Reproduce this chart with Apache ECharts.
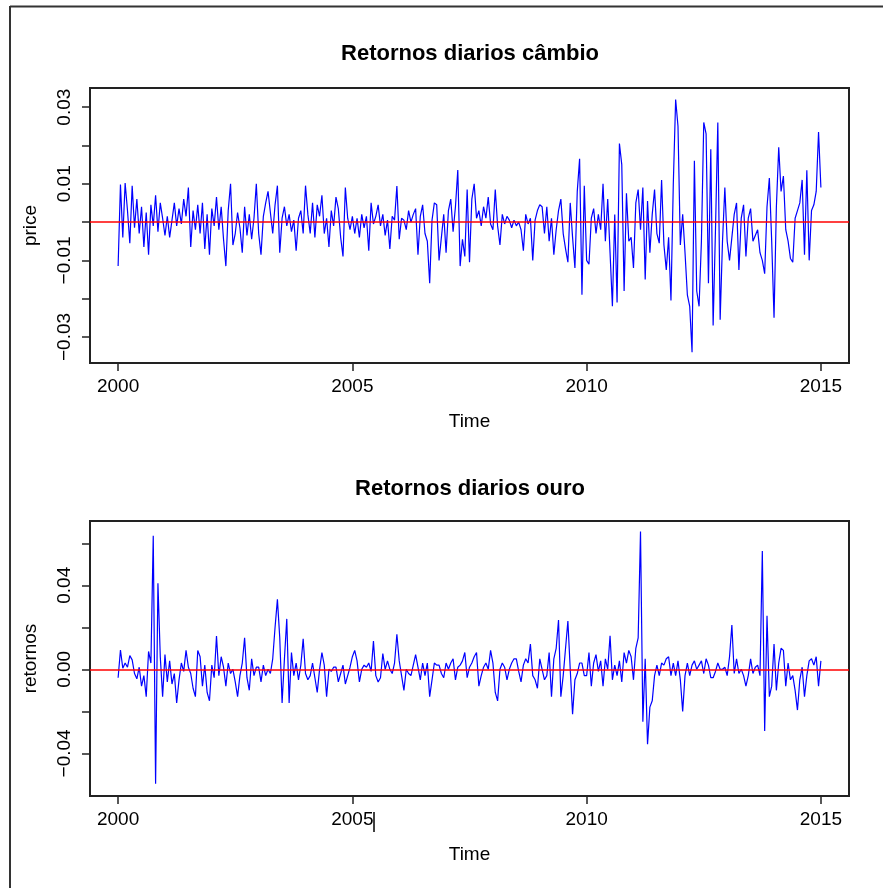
<!DOCTYPE html>
<html><head><meta charset="utf-8">
<script src="https://cdn.jsdelivr.net/npm/echarts@6/dist/echarts.min.js"></script>
<style>html,body{margin:0;padding:0;background:#fff}#c{width:883px;height:888px}</style>
</head><body><div id="c"></div>
<script>
// time index: series sampled every 0.05 year starting in 2000
const startYear = 2000;
const stepYear = 0.05;

const cambio = [
-0.0115, 0.0098, -0.0040, 0.0102, 0.0030, -0.0055, 0.0095, -0.0015, 0.0060, -0.0030, 0.0040, -0.0065, 0.0025, -0.0085, 0.0045, -0.0010, 0.0070, -0.0025, 0.0050, 0.0010,
-0.0035, 0.0015, -0.0040, 0.0005, 0.0050, -0.0010, 0.0035, -0.0005, 0.0060, 0.0015, 0.0090, -0.0065, 0.0030, -0.0020, 0.0045, -0.0030, 0.0050, -0.0070, 0.0020, -0.0085,
0.0035, -0.0010, 0.0065, -0.0020, 0.0040, -0.0045, -0.0115, 0.0030, 0.0100, -0.0060, -0.0030, 0.0025, -0.0015, -0.0080, 0.0040, -0.0035, 0.0020, -0.0045, 0.0010, 0.0100,
-0.0030, -0.0085, 0.0015, 0.0050, 0.0080, 0.0025, -0.0030, 0.0045, 0.0095, -0.0080, 0.0010, 0.0040, -0.0010, 0.0020, -0.0025, 0.0005, -0.0075, 0.0010, 0.0030, -0.0030,
0.0095, 0.0020, -0.0030, 0.0050, -0.0040, 0.0045, 0.0015, 0.0070, -0.0030, 0.0010, -0.0065, 0.0030, -0.0010, 0.0065, 0.0035, -0.0040, -0.0090, 0.0090, 0.0010, -0.0020,
0.0015, -0.0030, 0.0010, -0.0040, 0.0020, -0.0015, 0.0015, -0.0075, 0.0050, -0.0005, 0.0015, 0.0045, -0.0010, 0.0020, -0.0035, 0.0005, -0.0070, 0.0015, 0.0005, 0.0094,
-0.0045, 0.0010, 0.0005, -0.0020, 0.0030, 0.0000, 0.0020, 0.0035, -0.0085, 0.0015, 0.0045, -0.0030, -0.0050, -0.0160, 0.0005, 0.0050, 0.0045, -0.0100, -0.0040, 0.0020,
-0.0080, 0.0030, 0.0060, -0.0025, 0.0040, 0.0136, -0.0115, -0.0045, -0.0090, 0.0085, -0.0105, 0.0060, 0.0100, 0.0010, 0.0030, -0.0010, 0.0040, 0.0010, 0.0065, -0.0005,
-0.0020, 0.0085, -0.0010, -0.0060, 0.0020, -0.0005, 0.0015, 0.0005, -0.0015, 0.0005, -0.0010, 0.0000, -0.0020, -0.0075, 0.0020, -0.0005, 0.0010, -0.0100, 0.0005, 0.0030,
0.0045, 0.0040, -0.0030, 0.0040, -0.0050, 0.0010, -0.0085, -0.0020, 0.0030, 0.0060, -0.0030, -0.0070, -0.0105, 0.0050, -0.0040, -0.0120, 0.0080, 0.0165, -0.0190, 0.0095,
-0.0100, -0.0110, 0.0010, 0.0035, -0.0030, 0.0020, -0.0020, 0.0100, -0.0050, 0.0060, -0.0080, -0.0220, 0.0020, -0.0210, 0.0205, 0.0150, -0.0180, 0.0075, -0.0050, -0.0040,
-0.0120, 0.0050, 0.0085, -0.0020, 0.0090, -0.0150, 0.0055, -0.0080, 0.0020, 0.0085, -0.0030, -0.0055, 0.0110, -0.0060, -0.0125, -0.0040, -0.0205, 0.0100, 0.0320, 0.0250,
-0.0060, 0.0020, -0.0080, -0.0190, -0.0220, -0.0340, 0.0160, -0.0180, -0.0220, -0.0050, 0.0260, 0.0230, -0.0160, 0.0190, -0.0270, -0.0020, 0.0260, -0.0255, -0.0050, 0.0090,
-0.0050, -0.0100, -0.0040, 0.0020, 0.0050, -0.0125, 0.0010, 0.0045, -0.0090, 0.0010, 0.0035, -0.0050, -0.0035, -0.0020, -0.0080, -0.0100, -0.0135, 0.0040, 0.0115, -0.0050,
-0.0250, 0.0040, 0.0195, 0.0080, 0.0120, -0.0020, -0.0050, -0.0095, -0.0105, 0.0010, 0.0030, 0.0050, 0.0110, -0.0085, 0.0135, -0.0100, 0.0030, 0.0045, 0.0080, 0.0235,
0.0090
];

const ouro = [
-0.0040, 0.0092, 0.0005, 0.0030, 0.0010, 0.0065, 0.0045, -0.0020, -0.0045, 0.0010, -0.0080, -0.0030, -0.0130, 0.0085, 0.0030, 0.0636, -0.0545, 0.0410, 0.0060, -0.0130,
0.0070, -0.0060, 0.0040, -0.0070, -0.0020, -0.0160, -0.0050, 0.0030, -0.0010, 0.0090, 0.0010, -0.0020, -0.0090, -0.0130, 0.0090, 0.0060, -0.0080, 0.0020, -0.0110, -0.0150,
0.0020, -0.0040, 0.0159, -0.0030, 0.0060, 0.0010, -0.0080, 0.0030, -0.0020, 0.0000, -0.0060, -0.0130, -0.0030, 0.0030, 0.0150, -0.0040, -0.0100, 0.0050, -0.0030, 0.0010,
0.0010, -0.0060, 0.0020, -0.0030, 0.0000, -0.0020, 0.0050, 0.0200, 0.0333, 0.0150, -0.0160, 0.0050, 0.0240, -0.0160, 0.0080, -0.0030, 0.0030, -0.0050, 0.0020, 0.0145,
-0.0020, -0.0050, -0.0030, 0.0030, -0.0040, -0.0110, 0.0000, 0.0080, 0.0020, -0.0130, 0.0000, -0.0010, 0.0010, 0.0010, -0.0060, -0.0020, 0.0020, -0.0070, -0.0030, 0.0010,
0.0060, 0.0090, 0.0040, -0.0060, 0.0000, 0.0020, 0.0010, 0.0030, -0.0010, 0.0135, -0.0030, -0.0060, -0.0040, 0.0075, 0.0000, 0.0040, 0.0000, -0.0020, 0.0030, 0.0167,
0.0040, -0.0030, -0.0100, 0.0000, -0.0020, -0.0030, 0.0020, 0.0070, 0.0010, -0.0050, 0.0030, -0.0030, 0.0030, -0.0130, -0.0050, 0.0030, 0.0020, 0.0020, -0.0020, -0.0040,
0.0030, 0.0000, 0.0030, 0.0050, -0.0050, 0.0010, 0.0020, 0.0040, 0.0080, -0.0040, 0.0010, 0.0030, 0.0060, 0.0080, -0.0080, -0.0030, 0.0010, 0.0030, 0.0000, 0.0090,
0.0030, -0.0110, -0.0150, 0.0000, 0.0030, 0.0010, -0.0050, 0.0000, 0.0030, 0.0050, 0.0050, -0.0010, -0.0060, 0.0020, 0.0050, 0.0030, 0.0120, -0.0030, -0.0050, -0.0090,
0.0050, 0.0000, -0.0050, -0.0030, 0.0080, -0.0130, 0.0050, 0.0100, 0.0235, -0.0130, -0.0030, 0.0100, 0.0230, 0.0000, -0.0214, -0.0050, -0.0020, 0.0030, 0.0030, -0.0030,
-0.0030, 0.0080, -0.0080, 0.0030, 0.0070, -0.0010, 0.0040, -0.0080, 0.0050, 0.0000, 0.0160, -0.0050, 0.0020, -0.0030, 0.0040, -0.0060, 0.0080, 0.0030, 0.0090, 0.0060,
-0.0050, 0.0100, 0.0150, 0.0656, -0.0250, 0.0050, -0.0357, -0.0180, -0.0150, -0.0030, 0.0020, -0.0030, 0.0030, 0.0020, 0.0050, 0.0060, -0.0030, 0.0030, -0.0030, 0.0040,
-0.0050, -0.0200, -0.0030, 0.0030, -0.0030, 0.0020, 0.0040, 0.0000, 0.0020, 0.0040, -0.0020, 0.0050, 0.0020, -0.0040, -0.0040, -0.0010, 0.0030, 0.0000, 0.0000, 0.0010,
-0.0030, 0.0060, 0.0211, -0.0020, 0.0050, -0.0020, 0.0000, -0.0030, -0.0080, -0.0030, 0.0050, -0.0020, 0.0010, 0.0020, -0.0030, 0.0563, -0.0294, 0.0255, -0.0130, -0.0080,
0.0120, -0.0100, 0.0030, 0.0100, 0.0090, -0.0080, 0.0030, -0.0050, -0.0030, -0.0100, -0.0194, -0.0050, 0.0010, -0.0130, -0.0030, 0.0040, 0.0050, 0.0020, 0.0060, -0.0080,
0.0040
];

const xTicks = [2000, 2005, 2010, 2015];
const topTicks = [-0.03, -0.02, -0.01, 0, 0.01, 0.02, 0.03];
const topLabels = [-0.03, -0.01, 0.01, 0.03];
const botTicks = [-0.04, -0.02, 0, 0.02, 0.04, 0.06];
const botLabels = [-0.04, 0, 0.04];
const titles = ['Retornos diarios câmbio', 'Retornos diarios ouro'];
const yNames = ['price', 'retornos'];
const xName = 'Time';

const FONT = '"Liberation Sans", Arial, Helvetica, sans-serif';
const tickStyle = { color: '#222', width: 1.5 };

function pairs(arr) { return arr.map((v, i) => [startYear + i * stepYear, v]); }
function yFmt(v) { return (v < 0 ? '\u2212' : '') + Math.abs(v).toFixed(2); }

function xAxisCfg(idx) {
  return {
    gridIndex: idx, type: 'value', min: 1999.4, max: 2015.6, position: 'bottom',
    axisLine: { show: false, onZero: false }, splitLine: { show: false },
    axisTick: { show: true, inside: false, length: 8, customValues: xTicks, lineStyle: tickStyle },
    axisLabel: { customValues: xTicks, margin: 14, fontSize: 19, color: '#000', fontFamily: FONT, formatter: v => String(v) },
    name: xName, nameLocation: 'middle', nameGap: 49,
    nameTextStyle: { fontSize: 19, color: '#000', fontFamily: FONT }
  };
}
function yAxisCfg(idx, min, max, ticks, labels) {
  return {
    gridIndex: idx, type: 'value', min: min, max: max, position: 'left',
    axisLine: { show: false, onZero: false }, splitLine: { show: false },
    axisTick: { show: true, inside: false, length: 8, customValues: ticks, lineStyle: tickStyle },
    axisLabel: { customValues: labels, rotate: 90, margin: 16, fontSize: 19, color: '#000', fontFamily: FONT, formatter: yFmt },
    name: yNames[idx], nameLocation: 'middle', nameGap: 50,
    nameTextStyle: { fontSize: 19, color: '#000', fontFamily: FONT }
  };
}
function seriesCfg(idx, data) {
  return {
    type: 'line', xAxisIndex: idx, yAxisIndex: idx, data: pairs(data),
    showSymbol: false, symbol: 'none', lineStyle: { color: '#0000ff', width: 1.2 },
    itemStyle: { color: '#0000ff' }, animation: false, silent: true,
    markLine: {
      silent: true, symbol: ['none', 'none'], label: { show: false }, animation: false,
      lineStyle: { color: '#ff0000', width: 1.6, type: 'solid' },
      data: [{ yAxis: 0 }]
    }
  };
}

const chart = echarts.init(document.getElementById('c'), null, { renderer: 'canvas' });
chart.setOption({
  animation: false,
  backgroundColor: '#ffffff',
  grid: [
    { left: 90, top: 88, width: 759, height: 275, show: true, borderColor: '#222', borderWidth: 2, backgroundColor: 'transparent' },
    { left: 90, top: 521, width: 759, height: 275, show: true, borderColor: '#222', borderWidth: 2, backgroundColor: 'transparent' }
  ],
  xAxis: [xAxisCfg(0), xAxisCfg(1)],
  yAxis: [
    yAxisCfg(0, -0.0368, 0.0350, topTicks, topLabels),
    yAxisCfg(1, -0.0603, 0.0706, botTicks, botLabels)
  ],
  series: [seriesCfg(0, cambio), seriesCfg(1, ouro)],
  graphic: [
    { type: 'text', x: 470, y: 54, style: { text: titles[0], textAlign: 'center', textVerticalAlign: 'middle', font: 'bold 22px ' + FONT, fill: '#000' } },
    { type: 'text', x: 470, y: 489, style: { text: titles[1], textAlign: 'center', textVerticalAlign: 'middle', font: 'bold 22px ' + FONT, fill: '#000' } },
    { type: 'line', shape: { x1: 10, y1: 6.5, x2: 883, y2: 6.5 }, style: { stroke: '#333', lineWidth: 2 } },
    { type: 'line', shape: { x1: 10, y1: 6, x2: 10, y2: 888 }, style: { stroke: '#333', lineWidth: 2 } },
    { type: 'line', shape: { x1: 374, y1: 812, x2: 374, y2: 832 }, style: { stroke: '#000', lineWidth: 1.5 } }
  ]
});
</script>
</body></html>
